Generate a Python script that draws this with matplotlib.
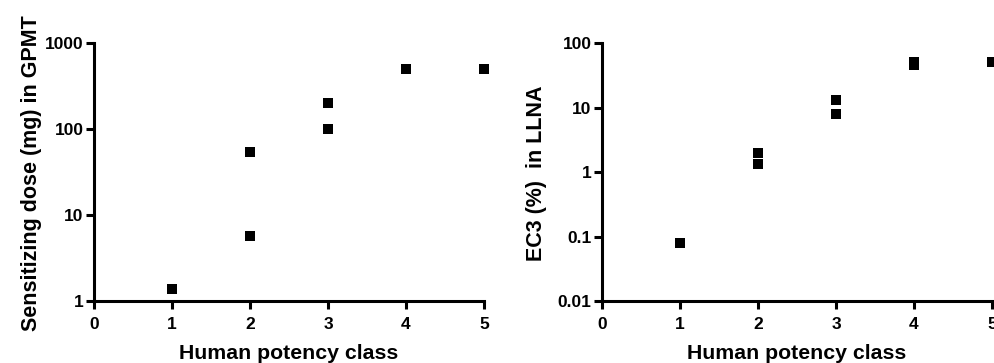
import matplotlib
matplotlib.use("Agg")
import matplotlib.pyplot as plt
from matplotlib.ticker import FixedLocator, FixedFormatter, NullLocator

plt.rcParams['font.family'] = ['Liberation Sans', 'DejaVu Sans']
plt.rcParams['font.weight'] = 'bold'

# Left panel: GPMT sensitizing dose
gpmt_class = [1, 2, 2, 3, 3, 4, 5]
gpmt_dose = [1.38, 53.6, 5.75, 199, 100, 494, 494]
gpmt_ticks = [1, 10, 100, 1000]
gpmt_ticklabels = ["1", "10", "100", "1000"]

# Right panel: LLNA EC3
llna_class = [1, 2, 2, 3, 3, 4, 4, 5]
llna_ec3 = [0.079, 1.96, 1.32, 13.2, 7.9, 50, 45, 50]
llna_ticks = [0.01, 0.1, 1, 10, 100]
llna_ticklabels = ["0.01", "0.1", "1", "10", "100"]

x_ticks = [0, 1, 2, 3, 4, 5]

fig = plt.figure(figsize=(9.95, 3.63), dpi=100)
W, H = 995, 363
ax1 = fig.add_axes([94 / W, 1 - 301 / H, 390 / W, 258 / H])
ax2 = fig.add_axes([602 / W, 1 - 301 / H, 390 / W, 258 / H])

def style(ax, xs, ys, yticks, ylabels, ylim, ylabel, ylab_x):
    ax.scatter(xs, ys, marker='s', s=55, color='black', clip_on=False, zorder=3, linewidths=0)
    ax.set_yscale('log')
    ax.set_xlim(0, 5)
    ax.set_ylim(*ylim)
    ax.yaxis.set_major_locator(FixedLocator(yticks))
    ax.yaxis.set_major_formatter(FixedFormatter(ylabels))
    ax.yaxis.set_minor_locator(NullLocator())
    ax.set_xticks(x_ticks)
    ax.set_xticklabels([str(t) for t in x_ticks])
    for s in ['top', 'right']:
        ax.spines[s].set_visible(False)
    for s in ['left', 'bottom']:
        ax.spines[s].set_linewidth(2.2)
    ax.tick_params(axis='both', width=2.2, length=5.5, labelsize=12.5)
    ax.tick_params(axis='x', pad=6)
    ax.tick_params(axis='y', pad=2)
    for lab in ax.get_xticklabels() + ax.get_yticklabels():
        lab.set_fontweight('bold')
    ax.set_xlabel('Human potency class', fontsize=15.3, fontweight='bold', va='center')
    ax.set_ylabel(ylabel, fontsize=15.5, fontweight='bold', va='center')
    ax.xaxis.set_label_coords(0.5, -0.205)
    ax.yaxis.set_label_coords(ylab_x, 0.494)

style(ax1, gpmt_class, gpmt_dose, gpmt_ticks, gpmt_ticklabels, (1, 1000),
      'Sensitizing dose (mg) in GPMT', -0.159)
style(ax2, llna_class, llna_ec3, llna_ticks, llna_ticklabels, (0.01, 100),
      'EC3 (%)  in LLNA', -0.167)

fig.savefig('out.png', dpi=100)
